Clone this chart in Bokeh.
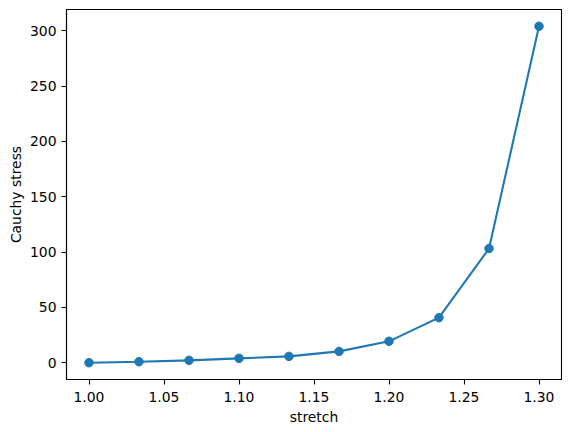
from bokeh.plotting import figure
from bokeh.models import FixedTicker, NumeralTickFormatter, Range1d
from bokeh.embed import file_html
from bokeh.resources import INLINE

stretch = [1.0, 1.0333, 1.0667, 1.1, 1.1333, 1.1667, 1.2, 1.2333, 1.2667, 1.3]
stress = [0.0, 0.9, 2.1, 3.9, 5.7, 10.2, 19.3, 40.7, 103.2, 304.0]
x_ticks = [1.00, 1.05, 1.10, 1.15, 1.20, 1.25, 1.30]
y_ticks = [0, 50, 100, 150, 200, 250, 300]

color = "#1f77b4"

p = figure(width=566, height=428, output_backend="svg", toolbar_location=None,
           x_range=Range1d(0.985, 1.315), y_range=Range1d(-15.2, 319.2),
           min_border_left=66, min_border_right=5, min_border_top=9, min_border_bottom=49)

p.line(stretch, stress, line_color=color, line_width=2.1)
p.scatter(stretch, stress, size=8.5, fill_color=color, line_color=color)

p.xgrid.visible = False
p.ygrid.visible = False
p.outline_line_color = "black"
p.outline_line_width = 1.1
p.background_fill_color = "white"

p.xaxis.ticker = FixedTicker(ticks=x_ticks)
p.yaxis.ticker = FixedTicker(ticks=y_ticks)
p.xaxis.formatter = NumeralTickFormatter(format="0.00")
p.yaxis.formatter = NumeralTickFormatter(format="0")
p.xaxis.axis_label = "stretch"
p.yaxis.axis_label = "Cauchy stress"

for ax in (p.xaxis[0], p.yaxis[0]):
    ax.axis_line_color = "black"
    ax.axis_line_width = 1.1
    ax.major_tick_line_color = "black"
    ax.major_tick_line_width = 1.1
    ax.major_tick_out = 5
    ax.major_tick_in = 0
    ax.minor_tick_line_color = None
    ax.major_label_text_font = "DejaVu Sans"
    ax.major_label_text_font_size = "13.9px"
    ax.major_label_text_color = "black"
    ax.axis_label_text_font = "DejaVu Sans"
    ax.axis_label_text_font_size = "13.9px"
    ax.axis_label_text_font_style = "normal"
    ax.axis_label_text_color = "black"

p.xaxis[0].major_label_standoff = 7
p.xaxis[0].axis_label_standoff = 4
p.yaxis[0].major_label_standoff = 5
p.yaxis[0].axis_label_standoff = 3

open("out.html", "w").write(file_html(p, INLINE))
